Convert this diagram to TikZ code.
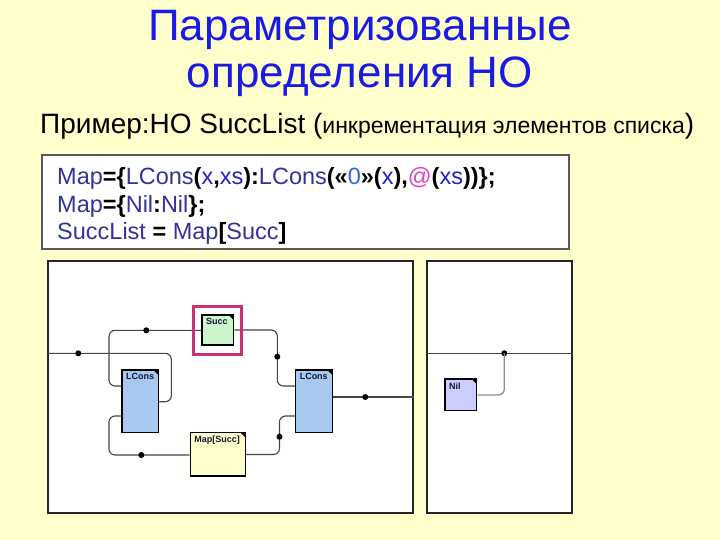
\documentclass[tikz,border=0pt]{standalone}
\usepackage{fontspec}
\setmainfont{Liberation Sans}
\usetikzlibrary{calc}
\definecolor{bgy}{HTML}{FFFFCC}
\definecolor{titleblue}{HTML}{1A1AE6}
\definecolor{codenavy}{HTML}{333399}
\definecolor{codeblue}{HTML}{2323C8}
\definecolor{codezero}{HTML}{2E6AD0}
\definecolor{codemag}{HTML}{E040C8}
\definecolor{wire}{HTML}{444444}
\definecolor{wirelight}{HTML}{8C8C8C}
\definecolor{hilite}{HTML}{C8326E}
\definecolor{lconsfill}{HTML}{A8C8F0}
\definecolor{succfill}{HTML}{CCF5CC}
\definecolor{mapfill}{HTML}{FFFFCC}
\definecolor{nilfill}{HTML}{CCCCFF}
\definecolor{lbltext}{HTML}{14143C}
\newcommand\cnavy[1]{\textcolor{codenavy}{#1}}
\newcommand\cblu[1]{\textcolor{codeblue}{#1}}
\newcommand\czero[1]{\textcolor{codezero}{#1}}
\newcommand\cmag[1]{\textcolor{codemag}{#1}}
\newcommand\cblk[1]{\textcolor{black}{\bfseries #1}}
\begin{document}
\begin{tikzpicture}[x=1pt,y=-1pt,
  panel/.style={draw=black!85, line width=1.5pt, fill=white},
  blk/.style={draw=black, line width=1.3pt, inner sep=0pt,
    path picture={\fill[black] ($(path picture bounding box.north east)+(-5pt,0pt)$) -- (path picture bounding box.north east) -- ++(0pt,-5pt) -- cycle;}},
  lbl/.style={anchor=north west, inner sep=0pt, xshift=4.5pt, yshift=-4pt, font=\fontsize{9}{10}\selectfont\bfseries, text=lbltext},
  conn/.style={draw=wire, line width=1.1pt, rounded corners=6pt},
  connlight/.style={draw=wirelight, line width=1.3pt, rounded corners=6pt},
  jdot/.style={circle, fill=black, inner sep=0pt, minimum size=6pt},
  codeline/.style={anchor=base west, inner sep=0pt, font=\fontsize{23.5}{26}\selectfont},
  titleline/.style={anchor=base, inner sep=0pt, text=titleblue, font=\fontsize{44}{50}\selectfont}
]
\fill[bgy] (0,0) rectangle (720,540);
\useasboundingbox (0,0) rectangle (720,540);

% title
\node[titleline] (title1) at (360,41) {Параметризованные};
\node[titleline] (title2) at (360,88) {определения НО};
\node[anchor=base west, inner sep=0pt] (sub) at (40,134) {\fontsize{28}{30}\selectfont Пример:НО SuccList (\fontsize{23}{26}\selectfont инкрементация элементов списка\fontsize{28}{30}\selectfont)};

% code box
\node[draw=black!65, line width=1.2pt, fill=white, minimum width=527pt, minimum height=94pt, inner sep=0pt] (code) at (305.5,202) {};
\node[codeline] (c1) at (57,184.5) {\cnavy{Map}\cblk{=\{}\cnavy{LCons}\cblk{(}\cblu{x}\cblk{,}\cblu{xs}\cblk{):}\cnavy{LCons}\cblk{(«}\czero{0}\cblk{»(}\cblu{x}\cblk{),}\cmag{@}\cblk{(}\cblu{xs}\cblk{))\};}};
\node[codeline] (c2) at (57,212) {\cnavy{Map}\cblk{=\{}\cnavy{Nil}\cblk{:}\cnavy{Nil}\cblk{\};}};
\node[codeline] (c3) at (57,240) {\cnavy{SuccList} \cblk{=} \cnavy{Map}\cblk{[}\cnavy{Succ}\cblk{]}};

% panels
\node[panel, minimum width=365pt, minimum height=252pt, inner sep=0pt] (pL) at (230.5,387) {};
\node[panel, minimum width=145pt, minimum height=252pt, inner sep=0pt] (pR) at (499.5,387) {};

% boxes (placed first so the wires can refer to them)
\node[blk, fill=lconsfill, minimum width=36.3pt, minimum height=62.3pt] (lcA) at (140.2,401.2) {};
\node[blk, fill=lconsfill, minimum width=36.6pt, minimum height=62.3pt] (lcB) at (314,401.2) {};
\node[blk, fill=succfill, minimum width=31.7pt, minimum height=30pt] (succ) at (217.8,330) {};
\node[blk, fill=mapfill, minimum width=55pt, minimum height=43.7pt] (map) at (217.8,454.2) {};
\node[blk, fill=nilfill, minimum width=31.7pt, minimum height=31.7pt] (nil) at (460.8,394.8) {};

% wires left panel
\coordinate (inL) at (pL.west |- 0,353.3);
\coordinate (outL) at (pL.east |- 0,397);
\draw[conn] (inL) -- (171.3,353.3) -- (171.3,401.7) -- (lcA.east |- 0,401.7);
\draw[conn] (lcA.west |- 0,386) -- (109,386) -- (109,330.3) -- (succ.west |- 0,330.3);
\draw[conn] (succ.east |- 0,330) -- (277.3,330) -- (277.3,386) -- (lcB.west |- 0,386);
\draw[conn] (lcA.west |- 0,416) -- (109,416) -- (109,455) -- (map.west |- 0,455);
\draw[conn] (map.east |- 0,454.5) -- (279.5,454.5) -- (279.5,416) -- (lcB.west |- 0,416);
\draw[conn] (lcB.east |- 0,397) -- (outL);

% wires right panel
\coordinate (inR) at (pR.west |- 0,353.3);
\coordinate (outR) at (pR.east |- 0,353.3);
\draw[conn] (inR) -- (outR);
\node[jdot] (dR) at (504.3,353.3) {};
\draw[connlight] (dR.center) -- (504.3,395) -- (nil.east |- 0,395);

% junction dots
\node[jdot] (d1) at (78.3,353.3) {};
\node[jdot] (d2) at (146.3,330.3) {};
\node[jdot] (d3) at (277.3,356.7) {};
\node[jdot] (d4) at (141.3,455) {};
\node[jdot] (d5) at (279.5,436.7) {};
\node[jdot] (d6) at (365.3,397) {};

% highlight frame round Succ
\node[draw=hilite, line width=2.8pt, minimum width=47.6pt, minimum height=47.6pt, inner sep=0pt] (hl) at (217.5,330.5) {};

% redraw boxes on top of the wires
\node[blk, fill=lconsfill, minimum width=36.3pt, minimum height=62.3pt] at (lcA) {};
\node[blk, fill=lconsfill, minimum width=36.6pt, minimum height=62.3pt] at (lcB) {};
\node[blk, fill=succfill, minimum width=31.7pt, minimum height=30pt] at (succ) {};
\node[blk, fill=mapfill, minimum width=55pt, minimum height=43.7pt] at (map) {};
\node[blk, fill=nilfill, minimum width=31.7pt, minimum height=31.7pt] at (nil) {};

% labels
\node[lbl] (tA) at (lcA.north west) {LCons};
\node[lbl] (tB) at (lcB.north west) {LCons};
\node[lbl] (tS) at (succ.north west) {Succ};
\node[lbl] (tM) at (map.north west) {Map[Succ]};
\node[lbl] (tN) at (nil.north west) {Nil};
\end{tikzpicture}
\end{document}
